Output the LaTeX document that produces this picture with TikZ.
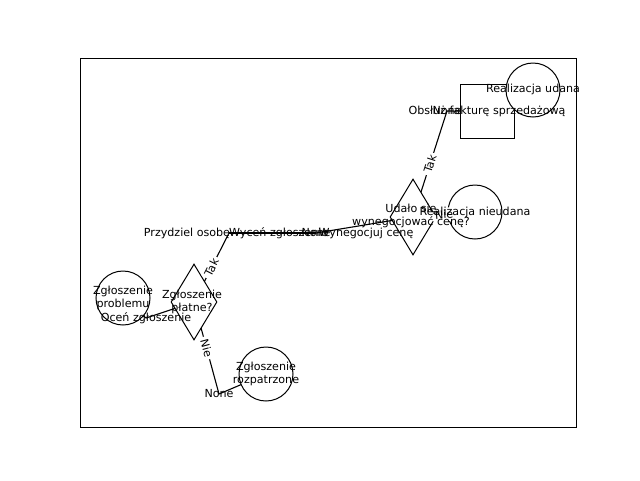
\documentclass[tikz,border=0pt]{standalone}
\usepackage{fontspec}
\setmainfont{DejaVu Sans}
\usetikzlibrary{shapes.geometric,backgrounds}
\pgfdeclarelayer{fg}
\pgfsetlayers{background,main,fg}
\begin{document}
\begin{tikzpicture}[x=1pt,y=-1pt,
  every node/.style={font=\fontsize{11.1}{13}\selectfont},
  circ/.style={circle,draw,fill=white,minimum size=54pt,inner sep=0pt,line width=1pt},
  dia/.style={diamond,draw,fill=white,minimum width=46pt,minimum height=76pt,inner sep=0pt,line width=1pt},
  sqr/.style={rectangle,draw,fill=white,minimum size=54pt,inner sep=0pt,line width=1pt},
  lbl/.style={inner sep=0pt,align=center},
  elabel/.style={fill=white,rounded corners=2pt,inner sep=2.5pt,sloped},
  conn/.style={line width=1.1pt}]
\useasboundingbox (0,0) rectangle (640,480);
\draw[line width=1pt] (80,58) rectangle (576,427);

% shapes
\node[circ] (zp) at (123,298) {};
\node[dia] (d1) at (194,302) {};
\node[circ] (roz) at (266,374) {};
\node[dia] (d2) at (413,217) {};
\node[circ] (rn) at (475,212) {};
\node[sqr] (sq) at (487.3,111.3) {};
\node[circ] (ru) at (533,90) {};

% texts
\begin{pgfonlayer}{fg}
\node[lbl] (zpT) at (123,298) {Zgłoszenie\\problemu};
\node[lbl] (ocen) at (146,318) {Oceń zgłoszenie};
\node[lbl] (d1T) at (192,302) {Zgłoszenie\\płatne?};
\node[lbl] (przyd) at (187,233) {Przydziel osobę};
\node[lbl,anchor=west] (wycen) at (229,233) {Wyceń zgłoszenie};
\node[lbl] (none1) at (316,233) {None};
\node[lbl] (wyn) at (366,233) {Wynegocjuj cenę};
\node[lbl] (d2T) at (411,216) {Udało się\\wynegocjować cenę?};
\node[lbl] (rnT) at (475,212) {Realizacja nieudana};
\node[lbl] (none2) at (447,111) {None};
\node[lbl] (sqT) at (487,111) {Obsłuż fakturę sprzedażową};
\node[lbl] (ruT) at (533,89) {Realizacja udana};
\node[lbl] (none3) at (219,394) {None};
\node[lbl] (rozT) at (266,374) {Zgłoszenie\\rozpatrzone};
\end{pgfonlayer}

% connectors
\begin{scope}[on background layer]
\draw[conn] (zp.center) -- (ocen.center);
\draw[conn] (ocen.center) -- (d1.center);
\draw[conn] (d1.center) -- (wycen.west);
\draw[conn] (wycen.west) -- (none1.center);
\draw[conn] (none1.center) -- (d2.center);
\draw[conn] (d2.center) -- (rn.center);
\draw[conn] (d2.center) -- (none2.center);
\draw[conn] (none2.center) -- (sq.center);
\draw[conn] (sq.center) -- (ru.center);
\draw[conn] (d1.center) -- (none3.center);
\draw[conn] (none3.center) -- (roz.center);
\end{scope}

% edge labels
\path (d1.center) -- (wycen.west) node[midway,elabel] {Tak};
\path (d1.center) -- (none3.center) node[midway,elabel] {Nie};
\path (d2.center) -- (none2.center) node[midway,elabel] {Tak};
\path (d2.center) -- (rn.center) node[midway,elabel] {Nie};
\end{tikzpicture}
\end{document}
